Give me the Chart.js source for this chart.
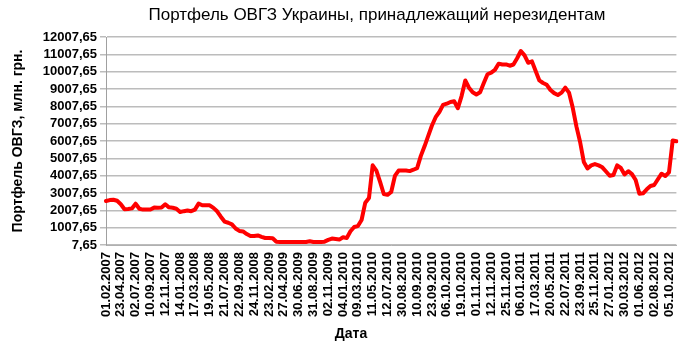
<!DOCTYPE html>
<html>
<head>
<meta charset="utf-8">
<script src="https://cdn.jsdelivr.net/npm/chart.js@4"></script>
<style>
  html, body { margin: 0; padding: 0; background: #fff; }
</style>
</head>
<body>
<canvas id="ovgz-chart" width="699" height="345"></canvas>
<script>
// tick dates shown under the axis, one every 4 points
const dateLabels = ['01.02.2007', '23.04.2007', '02.07.2007', '10.09.2007', '12.11.2007', '14.01.2008',
    '17.03.2008', '19.05.2008', '21.07.2008', '22.09.2008', '24.11.2008', '23.02.2009', '27.04.2009',
    '30.06.2009', '31.08.2009', '02.11.2009', '04.01.2010', '09.03.2010', '11.05.2010', '12.07.2010',
    '30.08.2010', '10.09.2010', '23.09.2010', '06.10.2010', '19.10.2010', '01.11.2010', '12.11.2010',
    '25.11.2010', '06.01.2011', '17.03.2011', '20.05.2011', '22.07.2011', '23.09.2011', '25.11.2011',
    '27.01.2012', '30.03.2012', '01.06.2012', '02.08.2012', '05.10.2012'];
const pointsPerLabel = 4;

// портфель, млн. грн.
const portfolio = [
    2546, 2600, 2620, 2560, 2360, 2070, 2080, 2120, 2390, 2100,
    2050, 2050, 2060, 2166, 2150, 2170, 2356, 2180, 2154, 2100,
    1912, 1960, 2000, 1960, 2050, 2396, 2300, 2300, 2300, 2150,
    1950, 1640, 1360, 1290, 1200, 960, 820, 790, 640, 527,
    527, 560, 480, 412, 412, 400, 200, 181, 181, 181,
    181, 181, 181, 181, 181, 220, 181, 181, 181, 200,
    300, 377, 350, 320, 450, 412, 800, 1046, 1100, 1450,
    2450, 2720, 4606, 4300, 3650, 2950, 2900, 3066, 3990, 4300,
    4300, 4300, 4270, 4350, 4440, 5150, 5700, 6300, 6900, 7380,
    7680, 8090, 8160, 8259, 8300, 7900, 8600, 9500, 9080, 8820,
    8690, 8820, 9350, 9860, 9950, 10110, 10470, 10420, 10425, 10350,
    10420, 10780, 11201, 10950, 10520, 10600, 10050, 9500, 9355, 9250,
    8950, 8770, 8665, 8800, 9090, 8800, 7935, 6850, 5950, 4800,
    4420, 4600, 4680, 4600, 4490, 4250, 4000, 4050, 4600, 4450,
    4080, 4265, 4100, 3760, 2965, 2990, 3220, 3410, 3470, 3800,
    4120, 3990, 4200, 6040, 5991
];

const yTicks = [7.65, 1007.65, 2007.65, 3007.65, 4007.65, 5007.65, 6007.65,
    7007.65, 8007.65, 9007.65, 10007.65, 11007.65, 12007.65];

const chartTitle = 'Портфель ОВГЗ Украины, принадлежащий нерезидентам';
const xTitle = 'Дата';
const yTitle = 'Портфель ОВГЗ, млн. грн.';

const labels = portfolio.map(function(v, i) {
    return i % pointsPerLabel === 0 ? (dateLabels[i / pointsPerLabel] || '') : '';
});

Chart.defaults.font.family = '"Liberation Sans", Arial, sans-serif';
Chart.defaults.color = '#000';

// title and x axis name sit where Excel put them, not centred on the plot
const textPlugin = {
    id: 'excelTexts',
    afterDraw: function(chart) {
        const ctx = chart.ctx;
        ctx.save();
        ctx.fillStyle = '#000';
        ctx.textAlign = 'center';
        ctx.textBaseline = 'middle';
        ctx.font = '17px "Liberation Sans", Arial, sans-serif';
        ctx.fillText(chartTitle, 377, 15);
        ctx.font = 'bold 14px "Liberation Sans", Arial, sans-serif';
        ctx.fillText(xTitle, 351, 334);
        ctx.restore();
    }
};

new Chart(document.getElementById('ovgz-chart'), {
    type: 'line',
    data: {
        labels: labels,
        datasets: [{
            data: portfolio,
            borderColor: '#ff0000',
            borderWidth: 4,
            pointRadius: 0,
            tension: 0,
            borderJoinStyle: 'round',
            borderCapStyle: 'round'
        }]
    },
    options: {
        responsive: false,
        animation: false,
        layout: { padding: { left: 0, right: 16, top: 37, bottom: 0 } },
        plugins: {
            legend: { display: false },
            tooltip: { enabled: false }
        },
        scales: {
            x: {
                type: 'category',
                offset: false,
                grid: { drawOnChartArea: false, drawTicks: false },
                border: { color: '#b0b0b0', width: 1 },
                ticks: {
                    autoSkip: false,
                    minRotation: 90,
                    maxRotation: 90,
                    padding: 7,
                    font: { size: 13, weight: 'bold' },
                    callback: function(v, i) { return labels[i]; }
                },
                afterFit: function(scale) { scale.height = 100; }
            },
            y: {
                min: 7.65,
                max: 12007.65,
                afterBuildTicks: function(scale) {
                    scale.ticks = yTicks.map(function(v) { return { value: v }; });
                },
                grid: { color: '#bcbcbc', lineWidth: 1.5, tickLength: 6 },
                border: { color: '#a0a0a0', width: 1 },
                ticks: {
                    autoSkip: false,
                    padding: 3,
                    font: { size: 13, weight: 'bold' },
                    callback: function(v) { return v.toFixed(2).replace('.', ','); }
                },
                title: {
                    display: true,
                    text: yTitle,
                    font: { size: 14, weight: 'bold' },
                    padding: { top: 10, bottom: 0 }
                },
                afterFit: function(scale) { scale.width = 106; }
            }
        }
    },
    plugins: [textPlugin]
});
</script>
</body>
</html>
